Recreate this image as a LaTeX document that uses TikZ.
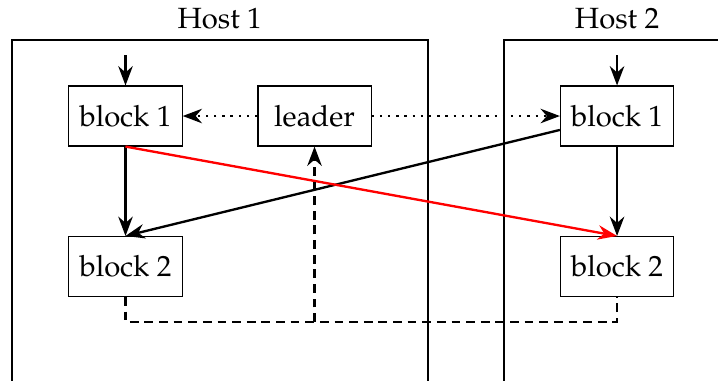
\documentclass[tikz,border=0pt]{standalone}
\usepackage[T1]{fontenc}
\usepackage{mathpazo}
\usepackage{tikz}
\usetikzlibrary{arrows.meta}

\begin{document}
\begin{tikzpicture}[>=Stealth, thick,
    blk/.style={draw, thin, minimum width=1.36cm, minimum height=0.72cm}]
  \useasboundingbox (0,-4.566) rectangle (8.627,0);
  % Host frames (open at the bottom / right)
  \draw[thin] (0.144,-4.7) |- (5.143,-0.481) -- (5.143,-4.7);
  \draw[thin] (6.056,-4.7) |- (9.0,-0.481);
  \node[above] (host1) at (2.64,-0.481) {Host 1};
  \node[above] (host2) at (7.414,-0.481) {Host 2};
  % Blocks
  \node[blk] (b1a) at (1.508,-1.394) {block 1};
  \node[blk] (lead) at (3.779,-1.394) {leader};
  \node[blk] (b1b) at (7.414,-1.394) {block 1};
  \node[blk] (b2a) at (1.508,-3.202) {block 2};
  \node[blk] (b2b) at (7.414,-3.202) {block 2};
  % Inputs
  \coordinate (ina) at (1.508,-0.661);
  \coordinate (inb) at (7.414,-0.661);
  \draw[->] (ina) -- (b1a);
  \draw[->] (inb) -- (b1b);
  % Leader to both first blocks
  \draw[->, dotted] (lead) -- (b1a);
  \draw[->, dotted] (lead) -- (b1b);
  % Data flow
  \draw[->] (b1a) -- (b2a);
  \draw[->] (b1b) -- (b2b);
  \draw[->] (b1b) -- (b2a.north);
  \draw[->, red] (b1a.south) -- (b2b.north);
  % Feedback bus
  \coordinate (bus) at (1.508,-3.869);
  \draw[densely dashed] (b2a.south) -- (bus) -| (b2b.south);
  \draw[->, densely dashed] (bus -| lead) -- (lead.south);
\end{tikzpicture}
\end{document}
